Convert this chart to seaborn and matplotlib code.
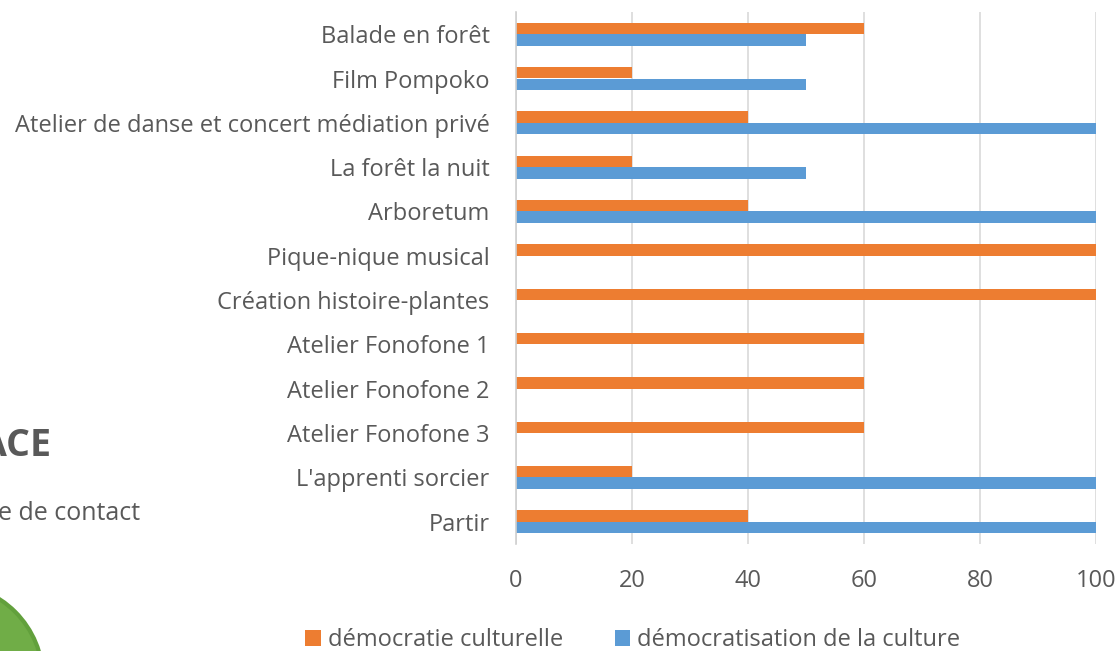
import matplotlib
matplotlib.use("Agg")
import matplotlib.pyplot as plt
import seaborn as sns
import pandas as pd
from matplotlib.patches import Circle

categories = ["Balade en forêt", "Film Pompoko", "Atelier de danse et concert médiation privé",
              "La forêt la nuit", "Arboretum", "Pique-nique musical", "Création histoire-plantes",
              "Atelier Fonofone 1", "Atelier Fonofone 2", "Atelier Fonofone 3",
              "L'apprenti sorcier", "Partir"]
democratie_culturelle = [60, 20, 40, 20, 40, 100, 100, 60, 60, 60, 20, 40]
democratisation_culture = [50, 50, 100, 50, 100, 0, 0, 0, 0, 0, 100, 100]
series_names = ["démocratie culturelle", "démocratisation de la culture"]
x_ticks = [0, 20, 40, 60, 80, 100]

df = pd.DataFrame({
    "cat": categories * 2,
    "val": democratie_culturelle + democratisation_culture,
    "serie": [series_names[0]] * len(categories) + [series_names[1]] * len(categories),
})

sns.set_style("white")
plt.rcParams['font.family'] = ['Open Sans', 'DejaVu Sans']
TXT = "#595959"
FS = 17

W, H = 1118, 651
fig = plt.figure(figsize=(W / 100, H / 100), dpi=100)

# background slide fragments
bg = fig.add_axes([0, 0, 1, 1])
bg.set_xlim(0, W)
bg.set_ylim(H, 0)
bg.axis("off")
bg.add_patch(Circle((-52, 679), 95, facecolor="#70AD47", edgecolor="#62A03C", linewidth=3))
bg.text(51, 446, "ACE", ha="right", va="center", fontsize=27, fontweight="bold", color=TXT)
bg.text(140, 514, "e de contact", ha="right", va="center", fontsize=18, color=TXT)

ax = fig.add_axes([516 / W, 1 - 544 / H, (1096 - 516) / W, (544 - 12) / H])
ax.set_facecolor("none")
sns.barplot(data=df, y="cat", x="val", hue="serie", orient="h", ax=ax,
            palette=["#ED7D31", "#5B9BD5"], width=0.52, linewidth=0, saturation=1)

handles, labels = ax.get_legend_handles_labels()
if ax.get_legend() is not None:
    ax.get_legend().remove()

ax.set_xlim(0, 100)
ax.set_ylim(len(categories) - 0.5, -0.5)
ax.set_xticks(x_ticks)
ax.set_xlabel("")
ax.set_ylabel("")
ax.grid(axis="x", color="#d9d9d9", linewidth=1.2)
ax.grid(axis="y", visible=False)
ax.set_axisbelow(True)
for s in ["top", "right", "bottom"]:
    ax.spines[s].set_visible(False)
ax.spines["left"].set_color("#d0d0d0")
ax.spines["left"].set_linewidth(1.2)

ax.tick_params(axis="y", which="major", length=0, pad=19, labelsize=FS, labelcolor=TXT)
ax.tick_params(axis="x", which="major", length=0, pad=18, labelsize=FS, labelcolor=TXT)
ax.set_yticks([i - 0.5 for i in range(len(categories) + 1)], minor=True)
ax.tick_params(axis="y", which="minor", length=5, color="#d0d0d0", width=1.2)

fig.legend(handles, labels, loc="center", bbox_to_anchor=(633 / W, 1 - 640 / H), ncol=2,
           frameon=False, fontsize=FS, labelcolor=TXT, handlelength=0.65, handleheight=0.65,
           handletextpad=0.3, columnspacing=2.2)

fig.savefig("out.png", dpi=100)
